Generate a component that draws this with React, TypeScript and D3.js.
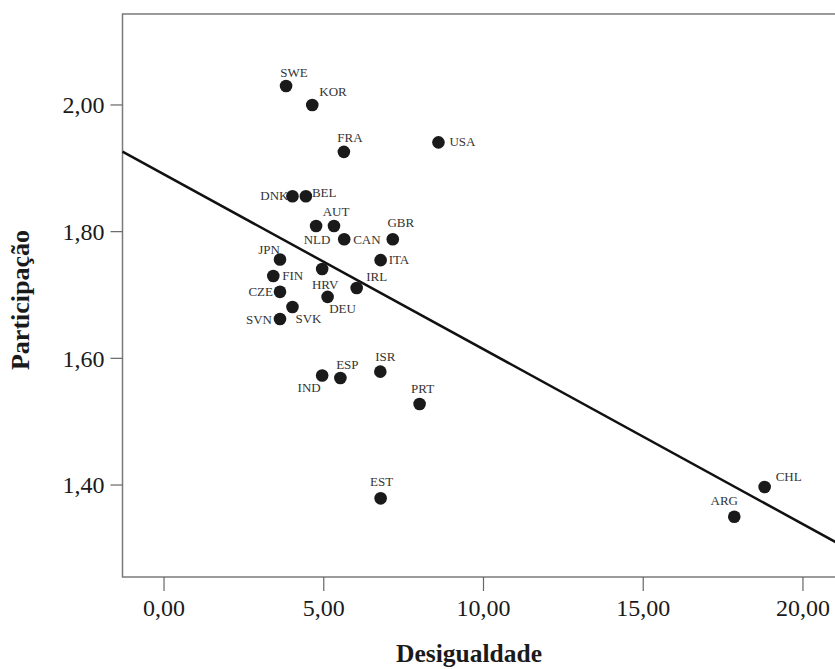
import React from 'react';
import * as d3 from 'd3';

// country codes and values
const countries = ['SWE', 'KOR', 'FRA', 'USA', 'DNK', 'BEL', 'NLD', 'AUT', 'CAN', 'GBR', 'ITA', 'JPN', 'FIN', 'HRV', 'CZE', 'IRL', 'DEU', 'SVK', 'SVN', 'IND', 'ESP', 'ISR', 'PRT', 'EST', 'CHL', 'ARG'];
const desigualdade = [3.82, 4.64, 5.63, 8.59, 4.02, 4.44, 4.76, 5.32, 5.64, 7.16, 6.78, 3.63, 3.42, 4.95, 3.63, 6.03, 5.12, 4.02, 3.63, 4.95, 5.52, 6.77, 8.0, 6.78, 18.8, 17.85];
const participacao = [2.03, 2.0, 1.926, 1.941, 1.856, 1.856, 1.809, 1.809, 1.788, 1.788, 1.755, 1.756, 1.73, 1.741, 1.705, 1.711, 1.697, 1.681, 1.662, 1.573, 1.569, 1.579, 1.528, 1.379, 1.397, 1.35];

const xTicks = [0, 5, 10, 15, 20];
const yTicks = [1.4, 1.6, 1.8, 2.0];

// fit line
const fitIntercept = 1.8904;
const fitSlope = -0.02761;

// label placement: dx, dy, anchor
const labelPos: Record<string, [number, number, string]> = {
    SWE: [8, -9, 'middle'], KOR: [7, -9, 'start'], FRA: [6, -10, 'middle'], USA: [11, 4, 'start'],
    DNK: [-4, 4, 'end'], BEL: [6, 1, 'start'], AUT: [2, -10, 'middle'], NLD: [1, 18, 'middle'],
    CAN: [9, 5, 'start'], GBR: [8, -12, 'middle'], ITA: [8, 4, 'start'], JPN: [-11, -6, 'middle'],
    FIN: [9, 4, 'start'], HRV: [3, 20, 'middle'], CZE: [-7, 4, 'end'], IRL: [20, -7, 'middle'],
    DEU: [15, 16, 'middle'], SVK: [16, 16, 'middle'], SVN: [-8, 5, 'end'], IND: [-13, 17, 'middle'],
    ESP: [7, -9, 'middle'], ISR: [5, -11, 'middle'], PRT: [3, -11, 'middle'], EST: [1, -12, 'middle'],
    CHL: [11, -6, 'start'], ARG: [-10, -12, 'middle'],
};

const W = 835, H = 669;
const font = '"Liberation Serif", "DejaVu Serif", serif';
const fmt = (v: number) => v.toFixed(2).replace('.', ',');

export default function App() {
    const x = d3.scaleLinear().domain([-1.3, 21.3]).range([122.5, 844.5]);
    const y = d3.scaleLinear().domain([1.2548, 2.1436]).range([577, 14]);
    const [x0, x1] = x.range();
    const [yb, yt] = y.range();
    const xd = x.domain();

    const data = countries.map((c, i) => ({ c, vx: desigualdade[i], vy: participacao[i] }));

    return (
        <svg width={W} height={H} style={{ display: 'block', position: 'absolute', left: 0, top: 0 }} fontFamily={font}>
            <rect x={0} y={0} width={W} height={H} fill="#fff" />
            {/* frame */}
            <rect x={x0} y={yt} width={x1 - x0} height={yb - yt} fill="none" stroke="#7a7a7a" strokeWidth={1.5} />

            {/* y axis */}
            {yTicks.map(t => (
                <g key={t}>
                    <line x1={x0 - 12} x2={x0} y1={y(t)} y2={y(t)} stroke="#666" strokeWidth={1.2} />
                    <text x={x0 - 18} y={y(t)} dy="0.35em" textAnchor="end" fontSize={24} fill="#1a1a1a">{fmt(t)}</text>
                </g>
            ))}
            {/* x axis */}
            {xTicks.map(t => (
                <g key={t}>
                    <line x1={x(t)} x2={x(t)} y1={yb} y2={yb + 14} stroke="#666" strokeWidth={1.2} />
                    <text x={x(t)} y={616} textAnchor="middle" fontSize={24} fill="#1a1a1a">{fmt(t)}</text>
                </g>
            ))}

            <text x={469} y={662} textAnchor="middle" fontSize={25.5} fontWeight="bold" fill="#1a1a1a">Desigualdade</text>
            <text transform={`translate(29,300) rotate(-90)`} textAnchor="middle" fontSize={26} fontWeight="bold" fill="#1a1a1a">Participação</text>

            {/* fit line */}
            <line
                x1={x(xd[0])} y1={y(fitIntercept + fitSlope * xd[0])}
                x2={x(xd[1])} y2={y(fitIntercept + fitSlope * xd[1])}
                stroke="#111" strokeWidth={2.5}
            />

            {/* points */}
            {data.map(d => (
                <circle key={d.c} cx={x(d.vx)} cy={y(d.vy)} r={6.3} fill="#1a1a1a" />
            ))}
            {data.map(d => {
                const [dx, dy, anchor] = labelPos[d.c];
                return (
                    <text key={'l' + d.c} x={x(d.vx) + dx} y={y(d.vy) + dy} textAnchor={anchor} fontSize={13} fill="#333">{d.c}</text>
                );
            })}
        </svg>
    );
}
